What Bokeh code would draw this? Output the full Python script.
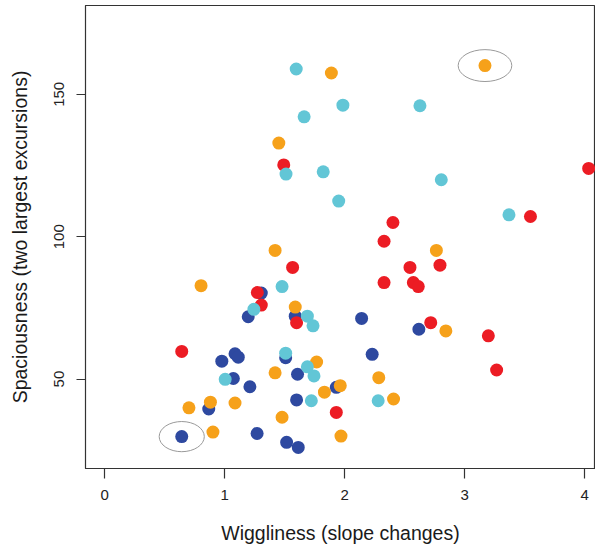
from bokeh.plotting import figure
from bokeh.models import Range1d, FixedTicker
from bokeh.embed import file_html
from bokeh.resources import INLINE

# ---- data ----
blue_x = [1.305, 1.196, 1.588, 1.086, 1.113, 0.976, 1.508, 1.607, 1.072, 1.210,
          1.930, 1.599, 0.867, 0.642, 1.270, 1.516, 1.613, 2.141, 2.618, 2.229]
blue_y = [80.2, 71.9, 72.1, 58.9, 57.7, 56.3, 57.5, 51.7, 50.2, 47.3,
          47.1, 42.7, 39.5, 29.8, 30.9, 27.8, 26.0, 71.3, 67.5, 58.7]

red_x = [1.492, 4.033, 3.548, 2.402, 2.328, 1.566, 2.544, 2.794, 2.328, 2.572,
         2.613, 1.272, 1.305, 1.599, 0.642, 2.717, 3.197, 3.266, 1.930]
red_y = [125.2, 124.0, 107.1, 105.0, 98.4, 89.2, 89.2, 90.0, 83.9, 83.9,
         82.5, 80.4, 76.0, 69.8, 59.7, 69.8, 65.2, 53.2, 38.3]

orange_x = [3.169, 1.889, 1.451, 1.420, 2.764, 0.803, 1.588, 1.766, 1.420, 1.963,
            1.831, 0.702, 0.881, 1.086, 1.478, 0.902, 1.969, 2.843, 2.284, 2.407]
orange_y = [160.1, 157.5, 132.9, 95.2, 95.2, 82.8, 75.3, 56.0, 52.2, 47.7,
            45.4, 39.9, 41.9, 41.6, 36.6, 31.4, 30.0, 66.9, 50.5, 43.0]

cyan_x = [1.596, 1.985, 2.627, 1.662, 1.511, 1.821, 1.950, 2.805, 3.369, 1.478,
          1.243, 1.689, 1.736, 1.508, 1.689, 1.744, 1.004, 1.722, 2.279]
cyan_y = [158.9, 146.2, 146.0, 142.1, 122.0, 122.8, 112.5, 120.0, 107.7, 82.5,
          74.5, 72.1, 68.7, 59.1, 54.3, 51.1, 49.9, 42.4, 42.4]

x_ticks = [0, 1, 2, 3, 4]
y_ticks = [50, 100, 150]

# highlighted (circled) points: index into the series
highlight_blue = [13]
highlight_orange = [0]

FONT = "Liberation Sans"

p = figure(width=595, height=546, output_backend="svg", toolbar_location=None,
           x_range=Range1d(-0.16, 4.09), y_range=Range1d(18.6, 181.2),
           min_border_left=85, min_border_right=0, min_border_top=5,
           min_border_bottom=72)
p.grid.visible = False
p.outline_line_color = "#333333"
p.outline_line_width = 1.2
p.background_fill_color = "white"
p.border_fill_color = "white"

size = 13
p.scatter(blue_x, blue_y, size=size, fill_color="#2E49A0", line_color=None)
p.scatter(red_x, red_y, size=size, fill_color="#EC1C24", line_color=None)
p.scatter(orange_x, orange_y, size=size, fill_color="#F6A11A", line_color=None)
p.scatter(cyan_x, cyan_y, size=size, fill_color="#62C6D6", line_color=None)

hx = [blue_x[i] for i in highlight_blue] + [orange_x[i] for i in highlight_orange]
hy = [blue_y[i] for i in highlight_blue] + [orange_y[i] for i in highlight_orange]
p.ellipse(x=hx, y=hy, width=[0.376, 0.447], height=[10.6, 11.2],
          fill_color=None, line_color="#9a9a9a", line_width=1)

for ax in (p.xaxis[0], p.yaxis[0]):
    ax.minor_tick_line_color = None
    ax.major_tick_in = 0
    ax.axis_line_color = "#333333"
    ax.major_tick_line_color = "#333333"
    ax.major_tick_line_width = 1.2
    ax.major_label_text_font = FONT
    ax.major_label_text_font_size = "15px"
    ax.major_label_text_color = "#222222"
    ax.axis_label_text_font = FONT
    ax.axis_label_text_font_size = "19.5px"
    ax.axis_label_text_font_style = "normal"
    ax.axis_label_text_color = "#1a1a1a"

p.xaxis.ticker = FixedTicker(ticks=x_ticks)
p.yaxis.ticker = FixedTicker(ticks=y_ticks)
p.xaxis.major_tick_out = 10
p.yaxis.major_tick_out = 9
p.xaxis.major_label_standoff = 11
p.yaxis.major_label_standoff = 12
p.yaxis.major_label_orientation = "vertical"
p.xaxis.axis_label = "Wiggliness (slope changes)"
p.yaxis.axis_label = "Spaciousness (two largest excursions)"
p.xaxis.axis_label_standoff = 19
p.yaxis.axis_label_standoff = 21

open("out.html", "w").write(file_html(p, INLINE))
